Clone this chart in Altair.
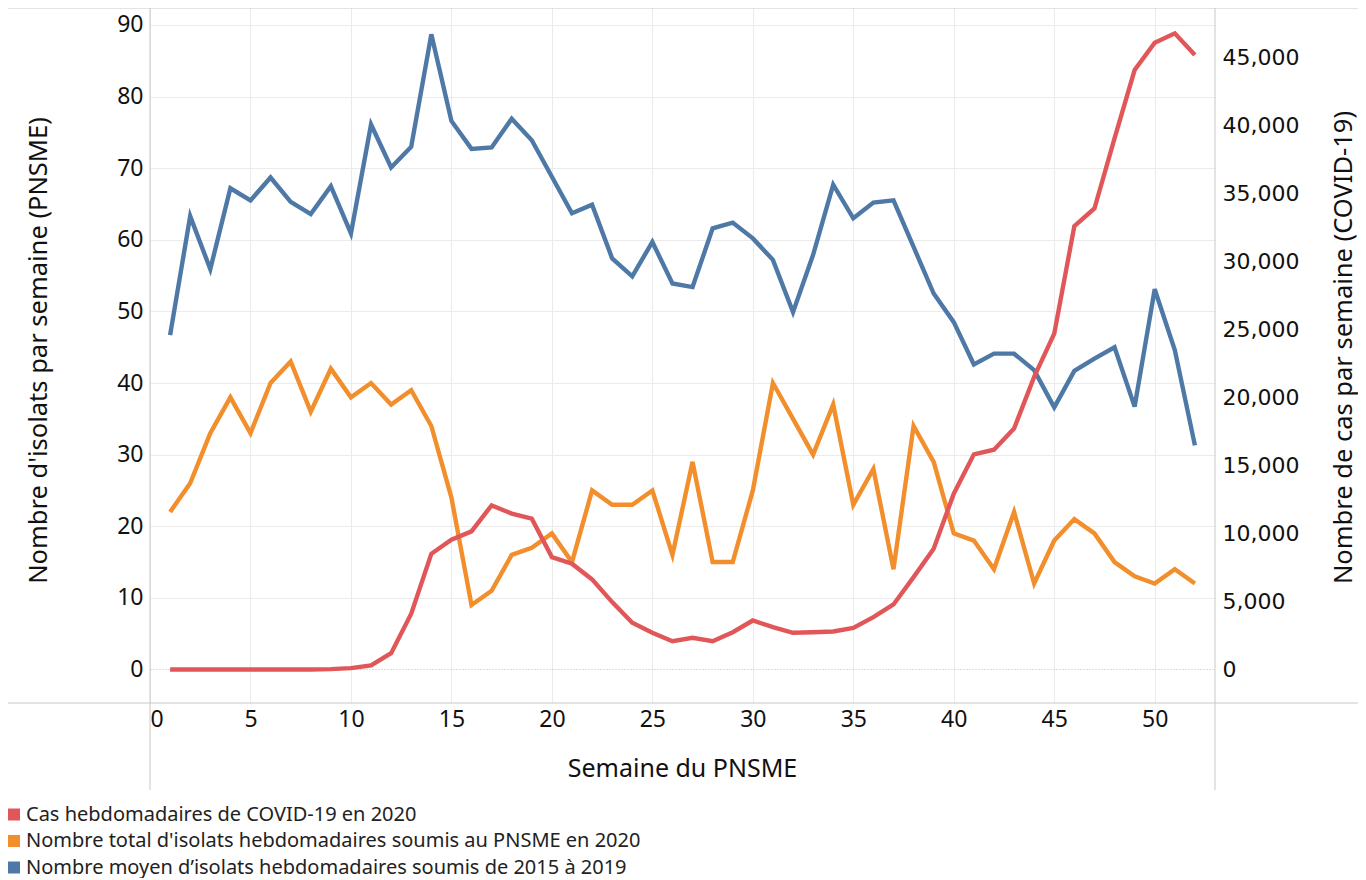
import altair as alt
import pandas as pd

weeks = list(range(1, 53))

covid_cases = [0, 0, 0, 0, 0, 0, 0, 0, 30, 100,
               300, 1200, 4100, 8500, 9540, 10150, 12060, 11450, 11080, 8260,
               7770, 6620, 4950, 3430, 2700, 2080, 2330, 2080, 2740, 3600,
               3110, 2700, 2740, 2790, 3060, 3850, 4780, 6790, 8870, 12920,
               15810, 16150, 17700, 21500, 24680, 32570, 33870, 39020, 44040, 46050,
               46740, 45150]

isolates_2020 = [22, 26, 33, 38, 33, 40, 43, 36, 42, 38,
                 40, 37, 39, 34, 24, 9, 11, 16, 17, 19,
                 15, 25, 23, 23, 25, 16, 29, 15, 15, 25,
                 40, 35, 30, 37, 23, 28, 14, 34, 29, 19,
                 18, 14, 22, 12, 18, 21, 19, 15, 13, 12,
                 14, 12]

isolates_mean = [46.7, 63.3, 55.9, 67.2, 65.5, 68.7, 65.3, 63.6, 67.5, 60.9,
                 76.1, 70.1, 73.0, 88.7, 76.6, 72.7, 72.9, 76.9, 73.9, 68.8,
                 63.7, 64.9, 57.4, 54.9, 59.7, 53.9, 53.4, 61.6, 62.4, 60.2,
                 57.2, 49.9, 57.9, 67.7, 63.0, 65.2, 65.5, 59.0, 52.5, 48.5,
                 42.6, 44.1, 44.1, 41.8, 36.6, 41.7, 43.4, 45.0, 36.7, 53.1,
                 44.6, 31.3]

series_covid = "Cas hebdomadaires de COVID-19 en 2020"
series_2020 = "Nombre total d'isolats hebdomadaires soumis au PNSME en 2020"
series_mean = "Nombre moyen d’isolats hebdomadaires soumis de 2015 à 2019"
series_names = [series_covid, series_2020, series_mean]
series_colors = ["#E15759", "#F28E2B", "#4E79A7"]

left_ticks = list(range(0, 100, 10))
right_ticks = list(range(0, 50000, 5000))
x_ticks = list(range(0, 55, 5))

left_df = pd.DataFrame({
    "week": weeks * 2,
    "value": isolates_mean + isolates_2020,
    "series": [series_mean] * 52 + [series_2020] * 52,
})
right_df = pd.DataFrame({"week": weeks, "value": covid_cases, "series": [series_covid] * 52})

FONT = "Noto Sans"
W, H = 1065, 695

color = alt.Color(
    "series:N",
    scale=alt.Scale(domain=series_names, range=series_colors),
    legend=alt.Legend(
        title=None, orient="none", legendX=-146, legendY=796,
        symbolType="square", symbolSize=36, symbolStrokeWidth=6,
        labelFont=FONT, labelFontSize=20, labelColor="#222222",
        labelLimit=0, labelOffset=2, rowPadding=5.5, clipHeight=21,
    ),
)

x_enc = alt.X(
    "week:Q",
    scale=alt.Scale(domain=[0, 53], nice=False, zero=False),
    axis=alt.Axis(
        values=x_ticks, title="Semaine du PNSME", ticks=False, domain=False,
        labelFont=FONT, labelFontSize=23, labelColor="#111111", labelPadding=5,
        labelFlush=True, gridColor="#ebebeb", grid=True,
        titleFont=FONT, titleFontSize=25, titleFontWeight="normal", titleColor="#111111",
        titleX=532, titleY=65, titleBaseline="middle",
    ),
)

left = alt.Chart(left_df).mark_line(strokeWidth=4.4).encode(
    x=x_enc,
    y=alt.Y(
        "value:Q",
        scale=alt.Scale(domain=[-4.68, 92.37], nice=False, zero=False),
        axis=alt.Axis(
            orient="left", values=left_ticks, title="Nombre d'isolats par semaine (PNSME)",
            ticks=False, domain=False, labelFont=FONT, labelFontSize=23,
            labelColor="#111111", labelPadding=7,
            grid=True,
            gridColor={"condition": {"test": "datum.value === 0", "value": "#b8b8b8"}, "value": "#ebebeb"},
            gridDash={"condition": {"test": "datum.value === 0", "value": [1, 2]}, "value": []},
            titleFont=FONT, titleFontSize=25.5, titleFontWeight="normal", titleColor="#111111",
            titleX=-112, titleY=342, titleBaseline="middle", titleAngle=270,
        ),
    ),
    color=color,
)

right = alt.Chart(right_df).mark_line(strokeWidth=4.4).encode(
    x=x_enc,
    y=alt.Y(
        "value:Q",
        scale=alt.Scale(domain=[-2461, 48600], nice=False, zero=False),
        axis=alt.Axis(
            orient="right", values=right_ticks, format=",.0f",
            title="Nombre de cas par semaine (COVID-19)",
            ticks=False, domain=False, grid=False, labelFont="DejaVu Sans", labelFontSize=22,
            labelColor="#111111", labelPadding=7,
            titleFont=FONT, titleFontSize=25.5, titleFontWeight="normal", titleColor="#111111",
            titleX=128, titleY=339, titleBaseline="middle", titleAngle=270,
        ),
    ),
    color=color,
)

deco = pd.DataFrame({"k": [0]})
line_color = "#c8c8c8"
bottom_rule = alt.Chart(deco).mark_rule(color=line_color, strokeWidth=1).encode(
    x=alt.value(-142), x2=alt.value(1208), y=alt.value(H))
left_rule = alt.Chart(deco).mark_rule(color=line_color, strokeWidth=1).encode(
    x=alt.value(0), y=alt.value(0), y2=alt.value(782))
right_rule = alt.Chart(deco).mark_rule(color=line_color, strokeWidth=1).encode(
    x=alt.value(W), y=alt.value(0), y2=alt.value(782))
top_rule = alt.Chart(deco).mark_rule(color=line_color, strokeWidth=1).encode(
    x=alt.value(-142), x2=alt.value(1208), y=alt.value(0))

chart = alt.layer(
    left, right, bottom_rule, left_rule, right_rule, top_rule
).resolve_scale(
    y="independent"
).properties(
    width=W, height=H,
    autosize=alt.AutoSizeParams(type="none"),
    padding={"left": 142, "top": 0, "right": 143, "bottom": 175},
).configure_view(stroke=None)

chart.save("out.html", embed_options={"renderer": "svg", "actions": False})
